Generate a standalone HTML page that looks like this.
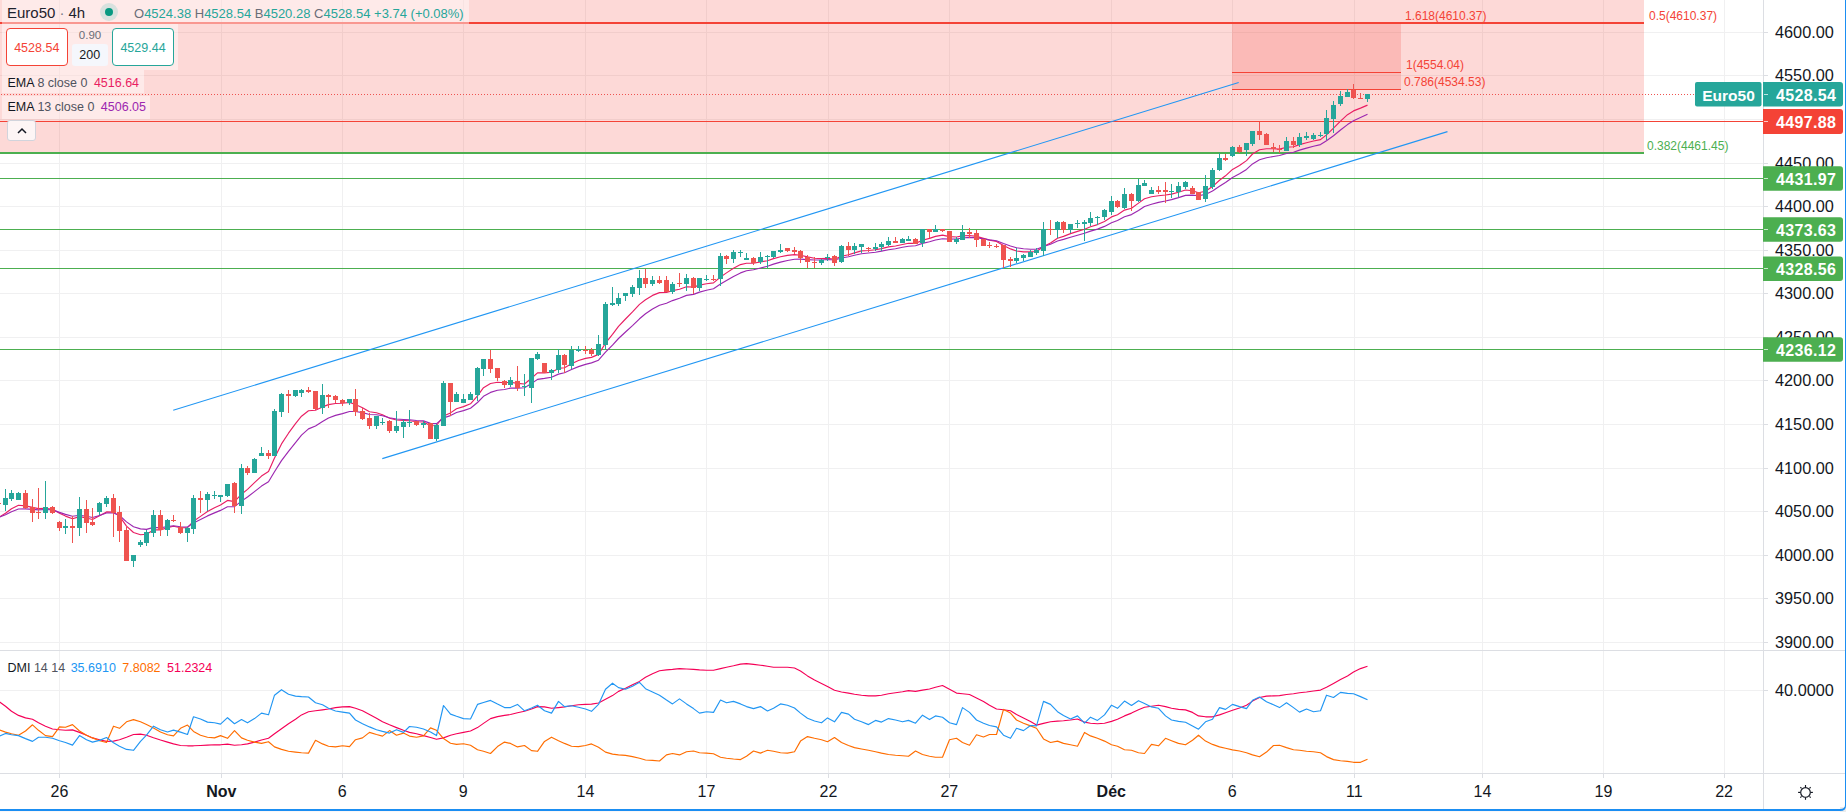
<!DOCTYPE html>
<html><head><meta charset="utf-8"><style>
*{margin:0;padding:0;box-sizing:border-box}
html,body{width:1846px;height:812px;overflow:hidden;background:#fff;font-family:"Liberation Sans",Arial,sans-serif}
#root{position:relative;width:1846px;height:812px;overflow:hidden}
svg text{font-family:"Liberation Sans",Arial,sans-serif}
.ax{font-size:16.3px;fill:#131722}
.tx{font-size:16px;fill:#131722}
.b{font-weight:bold}
.fib{font-size:12px}
.pl{font-size:16px;font-weight:bold;fill:#fff;letter-spacing:0.35px}
.lg,.ohlc,.emal,.dmil,.sell,.buy,.spread,.qty{position:absolute;white-space:nowrap}
.lgbg{position:absolute;left:2px;top:0;width:467px;height:24px;background:rgba(255,255,255,0.45)}
.lg1{left:7px;top:4px;font-size:15px;color:#1e222d}
.dot1{margin:0 4px;color:#787b86}
.ind{position:absolute;left:100px;top:3px;width:18px;height:18px;border-radius:50%;background:#d8e1de}
.ind2{position:absolute;left:5px;top:5px;width:8px;height:8px;border-radius:50%;background:#089981}
.ohlc{left:134px;top:6px;font-size:13px;color:#6a6d78}
.ohlc .g{color:#26a69a}
.bsbg{position:absolute;left:2px;top:24px;width:176px;height:46px;background:rgba(255,255,255,0.45)}
.sell{left:6px;top:28px;width:61.5px;height:38px;border:1px solid #f44336;border-radius:4px;background:#fff;color:#f44336;font-size:12.5px;text-align:center;line-height:39px}
.buy{left:112px;top:28px;width:62px;height:38px;border:1px solid #26a69a;border-radius:4px;background:#fff;color:#26a69a;font-size:12.5px;text-align:center;line-height:39px}
.spread{left:72px;top:29px;width:36px;text-align:center;font-size:11.5px;color:#6a6d78}
.qty{left:72px;top:44px;width:35.5px;height:21.5px;border-radius:3px;background:#f5f7fc;text-align:center;font-size:12.5px;line-height:22px;color:#131722}
.emabg{position:absolute;left:2px;background:rgba(255,255,255,0.45)}
.e1{top:70px;width:142px;height:22.5px}
.e2{top:95.5px;width:148px;height:23px}
.emal{left:7.5px;font-size:12.5px;color:#131722}
.ar{color:#50535e}
.coll{position:absolute;left:7px;top:119.5px;width:29px;height:21px;border:1px solid #d1d4dc;border-radius:3px;background:#fdf5f5;display:flex;align-items:center;justify-content:center}
.dmil{left:7.5px;top:661px;font-size:12.5px;color:#131722}
</style></head>
<body><div id="root">
<svg width="1846" height="812" viewBox="0 0 1846 812" style="position:absolute;left:0;top:0">
<rect x="59" y="0" width="1" height="773" fill="#f0f0f1"/>
<rect x="221" y="0" width="1" height="773" fill="#f0f0f1"/>
<rect x="342" y="0" width="1" height="773" fill="#f0f0f1"/>
<rect x="463" y="0" width="1" height="773" fill="#f0f0f1"/>
<rect x="585" y="0" width="1" height="773" fill="#f0f0f1"/>
<rect x="706" y="0" width="1" height="773" fill="#f0f0f1"/>
<rect x="828" y="0" width="1" height="773" fill="#f0f0f1"/>
<rect x="949" y="0" width="1" height="773" fill="#f0f0f1"/>
<rect x="1111" y="0" width="1" height="773" fill="#f0f0f1"/>
<rect x="1232" y="0" width="1" height="773" fill="#f0f0f1"/>
<rect x="1354" y="0" width="1" height="773" fill="#f0f0f1"/>
<rect x="1482" y="0" width="1" height="773" fill="#f0f0f1"/>
<rect x="1603" y="0" width="1" height="773" fill="#f0f0f1"/>
<rect x="1724" y="0" width="1" height="773" fill="#f0f0f1"/>
<rect x="0" y="32" width="1763" height="1" fill="#f0f0f1"/>
<rect x="0" y="75" width="1763" height="1" fill="#f0f0f1"/>
<rect x="0" y="119" width="1763" height="1" fill="#f0f0f1"/>
<rect x="0" y="163" width="1763" height="1" fill="#f0f0f1"/>
<rect x="0" y="206" width="1763" height="1" fill="#f0f0f1"/>
<rect x="0" y="250" width="1763" height="1" fill="#f0f0f1"/>
<rect x="0" y="293" width="1763" height="1" fill="#f0f0f1"/>
<rect x="0" y="337" width="1763" height="1" fill="#f0f0f1"/>
<rect x="0" y="380" width="1763" height="1" fill="#f0f0f1"/>
<rect x="0" y="424" width="1763" height="1" fill="#f0f0f1"/>
<rect x="0" y="468" width="1763" height="1" fill="#f0f0f1"/>
<rect x="0" y="511" width="1763" height="1" fill="#f0f0f1"/>
<rect x="0" y="555" width="1763" height="1" fill="#f0f0f1"/>
<rect x="0" y="598" width="1763" height="1" fill="#f0f0f1"/>
<rect x="0" y="642" width="1763" height="1" fill="#f0f0f1"/>
<rect x="0" y="690" width="1763" height="1" fill="#f0f0f1"/>
<rect x="0" y="0" width="1644" height="152" fill="#f44336" fill-opacity="0.2"/>
<rect x="1232" y="24" width="169" height="65" fill="#f44336" fill-opacity="0.2"/>
<rect x="0" y="22" width="1644" height="2" fill="#f44336"/>
<rect x="1232" y="72" width="169" height="1" fill="#f44336"/>
<rect x="1232" y="89" width="169" height="1" fill="#f44336"/>
<rect x="0" y="152" width="1644" height="2" fill="#4caf50"/>
<rect x="0" y="121" width="1763" height="1" fill="#f44336"/>
<rect x="0" y="178" width="1763" height="1" fill="#4caf50"/>
<rect x="0" y="229" width="1763" height="1" fill="#4caf50"/>
<rect x="0" y="268" width="1763" height="1" fill="#4caf50"/>
<rect x="0" y="349" width="1763" height="1" fill="#4caf50"/>
<line x1="1" y1="94.5" x2="1695" y2="94.5" stroke="#ef5350" stroke-width="1" stroke-dasharray="1 2"/>
<line x1="173.2" y1="410.2" x2="1238.7" y2="82.5" stroke="#2196f3" stroke-width="1.1"/>
<line x1="382.3" y1="458.6" x2="1447.5" y2="131.6" stroke="#2196f3" stroke-width="1.1"/>
<path d="M-1.5,517.5 L5.5,513.2 L11.5,508.7 L18.5,505.3 L25.5,505.9 L32.5,507.4 L38.5,508.6 L45.5,508.2 L52.5,509.2 L59.5,513.3 L65.5,516.1 L72.5,518.7 L79.5,516.6 L86.5,518.0 L92.5,519.5 L99.5,515.8 L106.5,511.9 L113.5,512.1 L119.5,516.2 L126.5,526.1 L133.5,532.5 L140.5,534.7 L146.5,534.2 L153.5,529.9 L160.5,529.9 L167.5,527.7 L173.5,526.2 L180.5,527.7 L187.5,527.7 L193.5,521.2 L200.5,516.4 L207.5,511.5 L214.5,507.7 L220.5,505.0 L227.5,500.4 L234.5,501.6 L241.5,494.2 L247.5,489.4 L254.5,482.7 L261.5,476.1 L268.5,471.6 L274.5,458.1 L281.5,443.9 L288.5,433.2 L295.5,423.6 L301.5,416.2 L308.5,410.7 L315.5,410.3 L322.5,406.9 L328.5,404.6 L335.5,403.5 L342.5,403.3 L349.5,402.4 L355.5,404.5 L362.5,407.7 L369.5,411.7 L376.5,412.7 L382.5,414.7 L389.5,418.2 L396.5,420.0 L403.5,420.5 L409.5,420.8 L416.5,421.7 L423.5,422.0 L430.5,425.7 L436.5,425.5 L443.5,416.1 L450.5,412.9 L456.5,408.7 L463.5,406.6 L470.5,403.8 L477.5,395.9 L483.5,387.7 L490.5,383.5 L497.5,382.2 L504.5,382.8 L510.5,382.2 L517.5,383.4 L524.5,384.0 L531.5,378.3 L537.5,372.9 L544.5,372.9 L551.5,372.2 L558.5,368.4 L564.5,367.7 L571.5,363.8 L578.5,360.5 L585.5,358.4 L591.5,357.4 L598.5,354.4 L605.5,343.2 L612.5,334.3 L618.5,326.3 L625.5,319.0 L632.5,311.9 L639.5,304.4 L645.5,299.8 L652.5,295.4 L659.5,292.6 L666.5,292.5 L672.5,290.6 L679.5,289.2 L686.5,286.7 L693.5,287.1 L699.5,285.1 L706.5,283.8 L713.5,282.9 L720.5,277.0 L726.5,272.9 L733.5,268.3 L740.5,264.6 L746.5,263.2 L753.5,263.2 L760.5,261.9 L767.5,260.7 L773.5,258.6 L780.5,256.7 L787.5,255.4 L794.5,254.6 L800.5,255.3 L807.5,256.9 L814.5,258.2 L821.5,258.6 L827.5,258.2 L834.5,259.2 L841.5,256.2 L848.5,254.8 L854.5,252.9 L861.5,250.9 L868.5,250.5 L875.5,249.8 L881.5,248.6 L888.5,246.9 L895.5,246.0 L902.5,244.5 L908.5,243.3 L915.5,243.4 L922.5,240.3 L929.5,238.4 L935.5,236.4 L942.5,235.1 L949.5,236.6 L956.5,237.0 L962.5,235.9 L969.5,235.5 L976.5,236.4 L983.5,238.4 L989.5,240.1 L996.5,241.5 L1003.5,245.6 L1010.5,248.9 L1016.5,251.0 L1023.5,251.9 L1030.5,251.9 L1036.5,251.5 L1043.5,246.5 L1050.5,243.0 L1057.5,238.3 L1063.5,236.4 L1070.5,233.6 L1077.5,231.4 L1084.5,229.3 L1090.5,226.8 L1097.5,224.6 L1104.5,221.4 L1111.5,216.9 L1117.5,214.7 L1124.5,210.1 L1131.5,208.2 L1138.5,203.1 L1144.5,198.7 L1151.5,196.8 L1158.5,195.7 L1165.5,195.0 L1171.5,194.1 L1178.5,192.3 L1185.5,190.0 L1192.5,190.8 L1198.5,192.8 L1205.5,191.3 L1212.5,186.6 L1219.5,180.3 L1225.5,175.8 L1232.5,169.4 L1239.5,165.5 L1246.5,160.6 L1252.5,154.0 L1259.5,149.8 L1266.5,148.7 L1273.5,148.8 L1279.5,149.1 L1286.5,147.3 L1293.5,146.8 L1299.5,144.6 L1306.5,142.7 L1313.5,141.0 L1320.5,139.6 L1326.5,134.9 L1333.5,128.2 L1340.5,121.1 L1347.5,114.7 L1353.5,110.9 L1360.5,108.1 L1367.5,105.1" fill="none" stroke="#e91e63" stroke-width="1.15" stroke-linejoin="round"/>
<path d="M-1.5,517.5 L5.5,514.7 L11.5,511.7 L18.5,509.0 L25.5,508.9 L32.5,509.4 L38.5,509.9 L45.5,509.5 L52.5,509.9 L59.5,512.4 L65.5,514.4 L72.5,516.3 L79.5,515.3 L86.5,516.3 L92.5,517.5 L99.5,515.5 L106.5,513.0 L113.5,513.0 L119.5,515.5 L126.5,521.9 L133.5,526.7 L140.5,528.9 L146.5,529.4 L153.5,527.4 L160.5,527.7 L167.5,526.6 L173.5,525.8 L180.5,526.8 L187.5,527.0 L193.5,522.9 L200.5,519.5 L207.5,515.9 L214.5,512.9 L220.5,510.4 L227.5,506.7 L234.5,506.6 L241.5,501.1 L247.5,497.0 L254.5,491.6 L261.5,486.1 L268.5,481.8 L274.5,471.7 L281.5,460.6 L288.5,451.3 L295.5,442.6 L301.5,435.1 L308.5,428.9 L315.5,426.0 L322.5,421.6 L328.5,418.0 L335.5,415.4 L342.5,413.6 L349.5,411.5 L355.5,411.5 L362.5,412.6 L369.5,414.5 L376.5,414.7 L382.5,415.7 L389.5,417.8 L396.5,419.0 L403.5,419.5 L409.5,419.8 L416.5,420.5 L423.5,420.9 L430.5,423.4 L436.5,423.6 L443.5,417.9 L450.5,415.6 L456.5,412.5 L463.5,410.6 L470.5,408.2 L477.5,402.5 L483.5,396.3 L490.5,392.4 L497.5,390.3 L504.5,389.5 L510.5,388.1 L517.5,388.1 L524.5,387.8 L531.5,383.6 L537.5,379.4 L544.5,378.4 L551.5,377.2 L558.5,374.1 L564.5,372.8 L571.5,369.5 L578.5,366.6 L585.5,364.4 L591.5,362.9 L598.5,360.2 L605.5,352.2 L612.5,345.2 L618.5,338.5 L625.5,332.0 L632.5,325.6 L639.5,318.8 L645.5,313.8 L652.5,309.0 L659.5,305.2 L666.5,303.3 L672.5,300.6 L679.5,298.2 L686.5,295.4 L693.5,294.4 L699.5,292.1 L706.5,290.2 L713.5,288.7 L720.5,284.1 L726.5,280.5 L733.5,276.4 L740.5,272.9 L746.5,270.8 L753.5,269.7 L760.5,268.0 L767.5,266.3 L773.5,264.1 L780.5,262.1 L787.5,260.5 L794.5,259.3 L800.5,259.1 L807.5,259.6 L814.5,260.0 L821.5,260.0 L827.5,259.5 L834.5,260.0 L841.5,258.0 L848.5,256.8 L854.5,255.3 L861.5,253.7 L868.5,253.0 L875.5,252.2 L881.5,251.1 L888.5,249.7 L895.5,248.7 L902.5,247.3 L908.5,246.2 L915.5,245.8 L922.5,243.4 L929.5,241.8 L935.5,240.0 L942.5,238.7 L949.5,239.1 L956.5,239.0 L962.5,238.0 L969.5,237.4 L976.5,237.8 L983.5,238.9 L989.5,239.9 L996.5,240.8 L1003.5,243.5 L1010.5,246.0 L1016.5,247.7 L1023.5,248.7 L1030.5,249.2 L1036.5,249.3 L1043.5,246.5 L1050.5,244.2 L1057.5,241.0 L1063.5,239.4 L1070.5,237.2 L1077.5,235.2 L1084.5,233.3 L1090.5,231.1 L1097.5,229.1 L1104.5,226.4 L1111.5,222.8 L1117.5,220.5 L1124.5,216.8 L1131.5,214.6 L1138.5,210.4 L1144.5,206.5 L1151.5,204.2 L1158.5,202.4 L1165.5,201.0 L1171.5,199.6 L1178.5,197.6 L1185.5,195.4 L1192.5,195.1 L1198.5,195.8 L1205.5,194.4 L1212.5,191.0 L1219.5,186.3 L1225.5,182.5 L1232.5,177.5 L1239.5,173.8 L1246.5,169.4 L1252.5,163.9 L1259.5,159.8 L1266.5,157.7 L1273.5,156.5 L1279.5,155.5 L1286.5,153.5 L1293.5,152.2 L1299.5,150.1 L1306.5,148.1 L1313.5,146.2 L1320.5,144.6 L1326.5,140.8 L1333.5,135.7 L1340.5,130.0 L1347.5,124.6 L1353.5,120.8 L1360.5,117.6 L1367.5,114.3" fill="none" stroke="#9c27b0" stroke-width="1.15" stroke-linejoin="round"/>
<rect x="-2" y="502" width="1" height="3" fill="#ef5350"/>
<rect x="-4" y="503" width="5" height="1" fill="#ef5350"/>
<rect x="5" y="489" width="1" height="22" fill="#26a69a"/>
<rect x="3" y="498" width="5" height="7" fill="#26a69a"/>
<rect x="11" y="490" width="1" height="11" fill="#26a69a"/>
<rect x="9" y="493" width="5" height="6" fill="#26a69a"/>
<rect x="18" y="492" width="1" height="8" fill="#26a69a"/>
<rect x="16" y="493" width="5" height="7" fill="#26a69a"/>
<rect x="25" y="490" width="1" height="19" fill="#ef5350"/>
<rect x="23" y="493" width="5" height="15" fill="#ef5350"/>
<rect x="32" y="499" width="1" height="23" fill="#ef5350"/>
<rect x="30" y="507" width="5" height="6" fill="#ef5350"/>
<rect x="38" y="488" width="1" height="31" fill="#ef5350"/>
<rect x="36" y="512" width="5" height="1" fill="#ef5350"/>
<rect x="45" y="481" width="1" height="38" fill="#26a69a"/>
<rect x="43" y="507" width="5" height="6" fill="#26a69a"/>
<rect x="52" y="506" width="1" height="8" fill="#ef5350"/>
<rect x="50" y="507" width="5" height="6" fill="#ef5350"/>
<rect x="59" y="521" width="1" height="10" fill="#ef5350"/>
<rect x="57" y="522" width="5" height="6" fill="#ef5350"/>
<rect x="65" y="519" width="1" height="15" fill="#26a69a"/>
<rect x="63" y="526" width="5" height="2" fill="#26a69a"/>
<rect x="72" y="516" width="1" height="27" fill="#ef5350"/>
<rect x="70" y="526" width="5" height="2" fill="#ef5350"/>
<rect x="79" y="497" width="1" height="39" fill="#26a69a"/>
<rect x="77" y="509" width="5" height="19" fill="#26a69a"/>
<rect x="86" y="500" width="1" height="33" fill="#ef5350"/>
<rect x="84" y="509" width="5" height="14" fill="#ef5350"/>
<rect x="92" y="508" width="1" height="18" fill="#ef5350"/>
<rect x="90" y="522" width="5" height="3" fill="#ef5350"/>
<rect x="99" y="502" width="1" height="13" fill="#26a69a"/>
<rect x="97" y="503" width="5" height="9" fill="#26a69a"/>
<rect x="106" y="496" width="1" height="11" fill="#26a69a"/>
<rect x="104" y="498" width="5" height="6" fill="#26a69a"/>
<rect x="113" y="494" width="1" height="43" fill="#ef5350"/>
<rect x="111" y="498" width="5" height="15" fill="#ef5350"/>
<rect x="119" y="506" width="1" height="36" fill="#ef5350"/>
<rect x="117" y="512" width="5" height="19" fill="#ef5350"/>
<rect x="126" y="527" width="1" height="34" fill="#ef5350"/>
<rect x="124" y="530" width="5" height="31" fill="#ef5350"/>
<rect x="133" y="555" width="1" height="12" fill="#26a69a"/>
<rect x="131" y="555" width="5" height="6" fill="#26a69a"/>
<rect x="140" y="540" width="1" height="7" fill="#26a69a"/>
<rect x="138" y="542" width="5" height="3" fill="#26a69a"/>
<rect x="146" y="530" width="1" height="16" fill="#26a69a"/>
<rect x="144" y="532" width="5" height="11" fill="#26a69a"/>
<rect x="153" y="510" width="1" height="27" fill="#26a69a"/>
<rect x="151" y="515" width="5" height="18" fill="#26a69a"/>
<rect x="160" y="510" width="1" height="26" fill="#ef5350"/>
<rect x="158" y="515" width="5" height="15" fill="#ef5350"/>
<rect x="167" y="519" width="1" height="17" fill="#26a69a"/>
<rect x="165" y="520" width="5" height="10" fill="#26a69a"/>
<rect x="173" y="515" width="1" height="7" fill="#ef5350"/>
<rect x="171" y="520" width="5" height="1" fill="#ef5350"/>
<rect x="180" y="522" width="1" height="12" fill="#ef5350"/>
<rect x="178" y="527" width="5" height="6" fill="#ef5350"/>
<rect x="187" y="527" width="1" height="15" fill="#26a69a"/>
<rect x="185" y="528" width="5" height="5" fill="#26a69a"/>
<rect x="193" y="495" width="1" height="39" fill="#26a69a"/>
<rect x="191" y="498" width="5" height="31" fill="#26a69a"/>
<rect x="200" y="491" width="1" height="22" fill="#ef5350"/>
<rect x="198" y="498" width="5" height="2" fill="#ef5350"/>
<rect x="207" y="492" width="1" height="19" fill="#26a69a"/>
<rect x="205" y="494" width="5" height="6" fill="#26a69a"/>
<rect x="214" y="491" width="1" height="8" fill="#26a69a"/>
<rect x="212" y="495" width="5" height="1" fill="#26a69a"/>
<rect x="220" y="495" width="1" height="7" fill="#26a69a"/>
<rect x="218" y="495" width="5" height="2" fill="#26a69a"/>
<rect x="227" y="484" width="1" height="13" fill="#26a69a"/>
<rect x="225" y="484" width="5" height="12" fill="#26a69a"/>
<rect x="234" y="482" width="1" height="31" fill="#ef5350"/>
<rect x="232" y="483" width="5" height="23" fill="#ef5350"/>
<rect x="241" y="464" width="1" height="50" fill="#26a69a"/>
<rect x="239" y="468" width="5" height="38" fill="#26a69a"/>
<rect x="247" y="466" width="1" height="9" fill="#ef5350"/>
<rect x="245" y="468" width="5" height="5" fill="#ef5350"/>
<rect x="254" y="458" width="1" height="15" fill="#26a69a"/>
<rect x="252" y="459" width="5" height="14" fill="#26a69a"/>
<rect x="261" y="447" width="1" height="9" fill="#26a69a"/>
<rect x="259" y="453" width="5" height="3" fill="#26a69a"/>
<rect x="268" y="450" width="1" height="9" fill="#ef5350"/>
<rect x="266" y="453" width="5" height="3" fill="#ef5350"/>
<rect x="274" y="409" width="1" height="47" fill="#26a69a"/>
<rect x="272" y="411" width="5" height="45" fill="#26a69a"/>
<rect x="281" y="393" width="1" height="24" fill="#26a69a"/>
<rect x="279" y="394" width="5" height="18" fill="#26a69a"/>
<rect x="288" y="390" width="1" height="23" fill="#ef5350"/>
<rect x="286" y="394" width="5" height="2" fill="#ef5350"/>
<rect x="295" y="390" width="1" height="7" fill="#26a69a"/>
<rect x="293" y="390" width="5" height="6" fill="#26a69a"/>
<rect x="301" y="389" width="1" height="8" fill="#26a69a"/>
<rect x="299" y="390" width="5" height="3" fill="#26a69a"/>
<rect x="308" y="387" width="1" height="6" fill="#ef5350"/>
<rect x="306" y="390" width="5" height="2" fill="#ef5350"/>
<rect x="315" y="391" width="1" height="19" fill="#ef5350"/>
<rect x="313" y="391" width="5" height="18" fill="#ef5350"/>
<rect x="322" y="384" width="1" height="30" fill="#26a69a"/>
<rect x="320" y="395" width="5" height="13" fill="#26a69a"/>
<rect x="328" y="394" width="1" height="14" fill="#ef5350"/>
<rect x="326" y="395" width="5" height="2" fill="#ef5350"/>
<rect x="335" y="395" width="1" height="8" fill="#ef5350"/>
<rect x="333" y="396" width="5" height="4" fill="#ef5350"/>
<rect x="342" y="399" width="1" height="7" fill="#ef5350"/>
<rect x="340" y="400" width="5" height="3" fill="#ef5350"/>
<rect x="349" y="399" width="1" height="6" fill="#26a69a"/>
<rect x="347" y="399" width="5" height="4" fill="#26a69a"/>
<rect x="355" y="389" width="1" height="27" fill="#ef5350"/>
<rect x="353" y="399" width="5" height="13" fill="#ef5350"/>
<rect x="362" y="408" width="1" height="12" fill="#ef5350"/>
<rect x="360" y="411" width="5" height="8" fill="#ef5350"/>
<rect x="369" y="413" width="1" height="16" fill="#ef5350"/>
<rect x="367" y="418" width="5" height="8" fill="#ef5350"/>
<rect x="376" y="416" width="1" height="13" fill="#26a69a"/>
<rect x="374" y="416" width="5" height="10" fill="#26a69a"/>
<rect x="382" y="418" width="1" height="7" fill="#26a69a"/>
<rect x="380" y="422" width="5" height="1" fill="#26a69a"/>
<rect x="389" y="420" width="1" height="13" fill="#ef5350"/>
<rect x="387" y="421" width="5" height="10" fill="#ef5350"/>
<rect x="396" y="411" width="1" height="22" fill="#26a69a"/>
<rect x="394" y="426" width="5" height="5" fill="#26a69a"/>
<rect x="403" y="420" width="1" height="18" fill="#26a69a"/>
<rect x="401" y="422" width="5" height="5" fill="#26a69a"/>
<rect x="409" y="410" width="1" height="17" fill="#26a69a"/>
<rect x="407" y="422" width="5" height="1" fill="#26a69a"/>
<rect x="416" y="421" width="1" height="5" fill="#ef5350"/>
<rect x="414" y="421" width="5" height="4" fill="#ef5350"/>
<rect x="423" y="421" width="1" height="7" fill="#26a69a"/>
<rect x="421" y="423" width="5" height="2" fill="#26a69a"/>
<rect x="430" y="423" width="1" height="16" fill="#ef5350"/>
<rect x="428" y="423" width="5" height="16" fill="#ef5350"/>
<rect x="436" y="424" width="1" height="17" fill="#26a69a"/>
<rect x="434" y="425" width="5" height="14" fill="#26a69a"/>
<rect x="443" y="381" width="1" height="45" fill="#26a69a"/>
<rect x="441" y="383" width="5" height="43" fill="#26a69a"/>
<rect x="450" y="383" width="1" height="33" fill="#ef5350"/>
<rect x="448" y="383" width="5" height="19" fill="#ef5350"/>
<rect x="456" y="392" width="1" height="10" fill="#26a69a"/>
<rect x="454" y="394" width="5" height="8" fill="#26a69a"/>
<rect x="463" y="394" width="1" height="9" fill="#26a69a"/>
<rect x="461" y="399" width="5" height="4" fill="#26a69a"/>
<rect x="470" y="392" width="1" height="8" fill="#26a69a"/>
<rect x="468" y="394" width="5" height="6" fill="#26a69a"/>
<rect x="477" y="367" width="1" height="34" fill="#26a69a"/>
<rect x="475" y="368" width="5" height="27" fill="#26a69a"/>
<rect x="483" y="359" width="1" height="17" fill="#26a69a"/>
<rect x="481" y="359" width="5" height="10" fill="#26a69a"/>
<rect x="490" y="350" width="1" height="23" fill="#ef5350"/>
<rect x="488" y="359" width="5" height="10" fill="#ef5350"/>
<rect x="497" y="368" width="1" height="13" fill="#ef5350"/>
<rect x="495" y="368" width="5" height="10" fill="#ef5350"/>
<rect x="504" y="380" width="1" height="8" fill="#ef5350"/>
<rect x="502" y="381" width="5" height="4" fill="#ef5350"/>
<rect x="510" y="377" width="1" height="10" fill="#26a69a"/>
<rect x="508" y="380" width="5" height="5" fill="#26a69a"/>
<rect x="517" y="366" width="1" height="25" fill="#ef5350"/>
<rect x="515" y="381" width="5" height="7" fill="#ef5350"/>
<rect x="524" y="374" width="1" height="22" fill="#26a69a"/>
<rect x="522" y="386" width="5" height="1" fill="#26a69a"/>
<rect x="531" y="358" width="1" height="45" fill="#26a69a"/>
<rect x="529" y="358" width="5" height="30" fill="#26a69a"/>
<rect x="537" y="352" width="1" height="8" fill="#26a69a"/>
<rect x="535" y="354" width="5" height="5" fill="#26a69a"/>
<rect x="544" y="363" width="1" height="10" fill="#ef5350"/>
<rect x="542" y="363" width="5" height="10" fill="#ef5350"/>
<rect x="551" y="369" width="1" height="11" fill="#26a69a"/>
<rect x="549" y="370" width="5" height="3" fill="#26a69a"/>
<rect x="558" y="349" width="1" height="24" fill="#26a69a"/>
<rect x="556" y="355" width="5" height="15" fill="#26a69a"/>
<rect x="564" y="354" width="1" height="19" fill="#ef5350"/>
<rect x="562" y="355" width="5" height="10" fill="#ef5350"/>
<rect x="571" y="346" width="1" height="23" fill="#26a69a"/>
<rect x="569" y="350" width="5" height="16" fill="#26a69a"/>
<rect x="578" y="346" width="1" height="6" fill="#26a69a"/>
<rect x="576" y="349" width="5" height="2" fill="#26a69a"/>
<rect x="585" y="346" width="1" height="8" fill="#ef5350"/>
<rect x="583" y="350" width="5" height="1" fill="#ef5350"/>
<rect x="591" y="348" width="1" height="8" fill="#ef5350"/>
<rect x="589" y="350" width="5" height="4" fill="#ef5350"/>
<rect x="598" y="335" width="1" height="21" fill="#26a69a"/>
<rect x="596" y="344" width="5" height="11" fill="#26a69a"/>
<rect x="605" y="302" width="1" height="47" fill="#26a69a"/>
<rect x="603" y="304" width="5" height="41" fill="#26a69a"/>
<rect x="612" y="287" width="1" height="19" fill="#26a69a"/>
<rect x="610" y="303" width="5" height="2" fill="#26a69a"/>
<rect x="618" y="293" width="1" height="13" fill="#26a69a"/>
<rect x="616" y="298" width="5" height="6" fill="#26a69a"/>
<rect x="625" y="293" width="1" height="8" fill="#26a69a"/>
<rect x="623" y="293" width="5" height="3" fill="#26a69a"/>
<rect x="632" y="285" width="1" height="12" fill="#26a69a"/>
<rect x="630" y="287" width="5" height="7" fill="#26a69a"/>
<rect x="639" y="270" width="1" height="25" fill="#26a69a"/>
<rect x="637" y="278" width="5" height="10" fill="#26a69a"/>
<rect x="645" y="269" width="1" height="19" fill="#ef5350"/>
<rect x="643" y="278" width="5" height="6" fill="#ef5350"/>
<rect x="652" y="276" width="1" height="10" fill="#26a69a"/>
<rect x="650" y="280" width="5" height="4" fill="#26a69a"/>
<rect x="659" y="276" width="1" height="8" fill="#ef5350"/>
<rect x="657" y="280" width="5" height="3" fill="#ef5350"/>
<rect x="666" y="276" width="1" height="16" fill="#ef5350"/>
<rect x="664" y="280" width="5" height="12" fill="#ef5350"/>
<rect x="672" y="282" width="1" height="12" fill="#26a69a"/>
<rect x="670" y="284" width="5" height="8" fill="#26a69a"/>
<rect x="679" y="273" width="1" height="14" fill="#ef5350"/>
<rect x="677" y="283" width="5" height="1" fill="#ef5350"/>
<rect x="686" y="274" width="1" height="17" fill="#26a69a"/>
<rect x="684" y="278" width="5" height="6" fill="#26a69a"/>
<rect x="693" y="277" width="1" height="17" fill="#ef5350"/>
<rect x="691" y="278" width="5" height="10" fill="#ef5350"/>
<rect x="699" y="278" width="1" height="13" fill="#26a69a"/>
<rect x="697" y="278" width="5" height="10" fill="#26a69a"/>
<rect x="706" y="275" width="1" height="6" fill="#26a69a"/>
<rect x="704" y="279" width="5" height="1" fill="#26a69a"/>
<rect x="713" y="275" width="1" height="6" fill="#ef5350"/>
<rect x="711" y="279" width="5" height="1" fill="#ef5350"/>
<rect x="720" y="253" width="1" height="33" fill="#26a69a"/>
<rect x="718" y="256" width="5" height="23" fill="#26a69a"/>
<rect x="726" y="255" width="1" height="9" fill="#ef5350"/>
<rect x="724" y="256" width="5" height="3" fill="#ef5350"/>
<rect x="733" y="250" width="1" height="13" fill="#26a69a"/>
<rect x="731" y="252" width="5" height="7" fill="#26a69a"/>
<rect x="740" y="250" width="1" height="7" fill="#26a69a"/>
<rect x="738" y="252" width="5" height="1" fill="#26a69a"/>
<rect x="746" y="253" width="1" height="7" fill="#26a69a"/>
<rect x="744" y="258" width="5" height="2" fill="#26a69a"/>
<rect x="753" y="257" width="1" height="8" fill="#ef5350"/>
<rect x="751" y="258" width="5" height="5" fill="#ef5350"/>
<rect x="760" y="252" width="1" height="12" fill="#26a69a"/>
<rect x="758" y="257" width="5" height="5" fill="#26a69a"/>
<rect x="767" y="255" width="1" height="13" fill="#26a69a"/>
<rect x="765" y="256" width="5" height="1" fill="#26a69a"/>
<rect x="773" y="251" width="1" height="7" fill="#26a69a"/>
<rect x="771" y="251" width="5" height="6" fill="#26a69a"/>
<rect x="780" y="244" width="1" height="9" fill="#26a69a"/>
<rect x="778" y="250" width="5" height="2" fill="#26a69a"/>
<rect x="787" y="248" width="1" height="4" fill="#ef5350"/>
<rect x="785" y="248" width="5" height="3" fill="#ef5350"/>
<rect x="794" y="247" width="1" height="7" fill="#ef5350"/>
<rect x="792" y="250" width="5" height="2" fill="#ef5350"/>
<rect x="800" y="250" width="1" height="13" fill="#ef5350"/>
<rect x="798" y="251" width="5" height="7" fill="#ef5350"/>
<rect x="807" y="255" width="1" height="13" fill="#ef5350"/>
<rect x="805" y="257" width="5" height="5" fill="#ef5350"/>
<rect x="814" y="257" width="1" height="11" fill="#ef5350"/>
<rect x="812" y="262" width="5" height="1" fill="#ef5350"/>
<rect x="821" y="259" width="1" height="6" fill="#26a69a"/>
<rect x="819" y="260" width="5" height="3" fill="#26a69a"/>
<rect x="827" y="254" width="1" height="7" fill="#26a69a"/>
<rect x="825" y="257" width="5" height="1" fill="#26a69a"/>
<rect x="834" y="255" width="1" height="11" fill="#ef5350"/>
<rect x="832" y="256" width="5" height="7" fill="#ef5350"/>
<rect x="841" y="245" width="1" height="18" fill="#26a69a"/>
<rect x="839" y="246" width="5" height="16" fill="#26a69a"/>
<rect x="848" y="242" width="1" height="14" fill="#ef5350"/>
<rect x="846" y="246" width="5" height="4" fill="#ef5350"/>
<rect x="854" y="243" width="1" height="11" fill="#26a69a"/>
<rect x="852" y="246" width="5" height="4" fill="#26a69a"/>
<rect x="861" y="244" width="1" height="9" fill="#26a69a"/>
<rect x="859" y="244" width="5" height="3" fill="#26a69a"/>
<rect x="868" y="247" width="1" height="5" fill="#ef5350"/>
<rect x="866" y="248" width="5" height="1" fill="#ef5350"/>
<rect x="875" y="243" width="1" height="8" fill="#26a69a"/>
<rect x="873" y="247" width="5" height="2" fill="#26a69a"/>
<rect x="881" y="242" width="1" height="9" fill="#26a69a"/>
<rect x="879" y="244" width="5" height="3" fill="#26a69a"/>
<rect x="888" y="237" width="1" height="9" fill="#26a69a"/>
<rect x="886" y="241" width="5" height="4" fill="#26a69a"/>
<rect x="895" y="237" width="1" height="6" fill="#ef5350"/>
<rect x="893" y="241" width="5" height="2" fill="#ef5350"/>
<rect x="902" y="238" width="1" height="5" fill="#26a69a"/>
<rect x="900" y="239" width="5" height="4" fill="#26a69a"/>
<rect x="908" y="236" width="1" height="5" fill="#26a69a"/>
<rect x="906" y="239" width="5" height="2" fill="#26a69a"/>
<rect x="915" y="238" width="1" height="6" fill="#ef5350"/>
<rect x="913" y="239" width="5" height="5" fill="#ef5350"/>
<rect x="922" y="229" width="1" height="18" fill="#26a69a"/>
<rect x="920" y="229" width="5" height="14" fill="#26a69a"/>
<rect x="929" y="229" width="1" height="9" fill="#ef5350"/>
<rect x="927" y="229" width="5" height="3" fill="#ef5350"/>
<rect x="935" y="225" width="1" height="7" fill="#26a69a"/>
<rect x="933" y="229" width="5" height="3" fill="#26a69a"/>
<rect x="942" y="229" width="1" height="3" fill="#ef5350"/>
<rect x="940" y="229" width="5" height="2" fill="#ef5350"/>
<rect x="949" y="231" width="1" height="11" fill="#ef5350"/>
<rect x="947" y="231" width="5" height="11" fill="#ef5350"/>
<rect x="956" y="237" width="1" height="7" fill="#26a69a"/>
<rect x="954" y="239" width="5" height="3" fill="#26a69a"/>
<rect x="962" y="225" width="1" height="15" fill="#26a69a"/>
<rect x="960" y="232" width="5" height="8" fill="#26a69a"/>
<rect x="969" y="228" width="1" height="10" fill="#ef5350"/>
<rect x="967" y="232" width="5" height="2" fill="#ef5350"/>
<rect x="976" y="230" width="1" height="17" fill="#ef5350"/>
<rect x="974" y="233" width="5" height="7" fill="#ef5350"/>
<rect x="983" y="239" width="1" height="7" fill="#ef5350"/>
<rect x="981" y="239" width="5" height="7" fill="#ef5350"/>
<rect x="989" y="242" width="1" height="6" fill="#ef5350"/>
<rect x="987" y="245" width="5" height="1" fill="#ef5350"/>
<rect x="996" y="244" width="1" height="4" fill="#ef5350"/>
<rect x="994" y="246" width="5" height="1" fill="#ef5350"/>
<rect x="1003" y="245" width="1" height="23" fill="#ef5350"/>
<rect x="1001" y="245" width="5" height="15" fill="#ef5350"/>
<rect x="1010" y="257" width="1" height="10" fill="#ef5350"/>
<rect x="1008" y="259" width="5" height="2" fill="#ef5350"/>
<rect x="1016" y="248" width="1" height="15" fill="#26a69a"/>
<rect x="1014" y="258" width="5" height="3" fill="#26a69a"/>
<rect x="1023" y="254" width="1" height="7" fill="#26a69a"/>
<rect x="1021" y="255" width="5" height="3" fill="#26a69a"/>
<rect x="1030" y="250" width="1" height="7" fill="#26a69a"/>
<rect x="1028" y="252" width="5" height="5" fill="#26a69a"/>
<rect x="1036" y="248" width="1" height="7" fill="#26a69a"/>
<rect x="1034" y="250" width="5" height="3" fill="#26a69a"/>
<rect x="1043" y="222" width="1" height="34" fill="#26a69a"/>
<rect x="1041" y="229" width="5" height="22" fill="#26a69a"/>
<rect x="1050" y="220" width="1" height="15" fill="#ef5350"/>
<rect x="1048" y="229" width="5" height="1" fill="#ef5350"/>
<rect x="1057" y="221" width="1" height="17" fill="#26a69a"/>
<rect x="1055" y="222" width="5" height="8" fill="#26a69a"/>
<rect x="1063" y="221" width="1" height="12" fill="#ef5350"/>
<rect x="1061" y="222" width="5" height="8" fill="#ef5350"/>
<rect x="1070" y="224" width="1" height="9" fill="#26a69a"/>
<rect x="1068" y="224" width="5" height="6" fill="#26a69a"/>
<rect x="1077" y="220" width="1" height="8" fill="#26a69a"/>
<rect x="1075" y="223" width="5" height="1" fill="#26a69a"/>
<rect x="1084" y="220" width="1" height="21" fill="#26a69a"/>
<rect x="1082" y="222" width="5" height="2" fill="#26a69a"/>
<rect x="1090" y="212" width="1" height="14" fill="#26a69a"/>
<rect x="1088" y="218" width="5" height="5" fill="#26a69a"/>
<rect x="1097" y="216" width="1" height="9" fill="#26a69a"/>
<rect x="1095" y="217" width="5" height="1" fill="#26a69a"/>
<rect x="1104" y="209" width="1" height="11" fill="#26a69a"/>
<rect x="1102" y="210" width="5" height="7" fill="#26a69a"/>
<rect x="1111" y="196" width="1" height="19" fill="#26a69a"/>
<rect x="1109" y="201" width="5" height="11" fill="#26a69a"/>
<rect x="1117" y="200" width="1" height="8" fill="#ef5350"/>
<rect x="1115" y="201" width="5" height="6" fill="#ef5350"/>
<rect x="1124" y="188" width="1" height="21" fill="#26a69a"/>
<rect x="1122" y="194" width="5" height="14" fill="#26a69a"/>
<rect x="1131" y="193" width="1" height="18" fill="#ef5350"/>
<rect x="1129" y="194" width="5" height="7" fill="#ef5350"/>
<rect x="1138" y="179" width="1" height="23" fill="#26a69a"/>
<rect x="1136" y="185" width="5" height="16" fill="#26a69a"/>
<rect x="1144" y="180" width="1" height="6" fill="#26a69a"/>
<rect x="1142" y="183" width="5" height="3" fill="#26a69a"/>
<rect x="1151" y="187" width="1" height="7" fill="#26a69a"/>
<rect x="1149" y="190" width="5" height="4" fill="#26a69a"/>
<rect x="1158" y="186" width="1" height="8" fill="#ef5350"/>
<rect x="1156" y="190" width="5" height="2" fill="#ef5350"/>
<rect x="1165" y="182" width="1" height="21" fill="#ef5350"/>
<rect x="1163" y="190" width="5" height="2" fill="#ef5350"/>
<rect x="1171" y="184" width="1" height="14" fill="#26a69a"/>
<rect x="1169" y="191" width="5" height="1" fill="#26a69a"/>
<rect x="1178" y="182" width="1" height="15" fill="#26a69a"/>
<rect x="1176" y="186" width="5" height="6" fill="#26a69a"/>
<rect x="1185" y="181" width="1" height="8" fill="#26a69a"/>
<rect x="1183" y="182" width="5" height="5" fill="#26a69a"/>
<rect x="1192" y="186" width="1" height="8" fill="#ef5350"/>
<rect x="1190" y="188" width="5" height="6" fill="#ef5350"/>
<rect x="1198" y="192" width="1" height="8" fill="#ef5350"/>
<rect x="1196" y="192" width="5" height="8" fill="#ef5350"/>
<rect x="1205" y="175" width="1" height="27" fill="#26a69a"/>
<rect x="1203" y="186" width="5" height="13" fill="#26a69a"/>
<rect x="1212" y="168" width="1" height="21" fill="#26a69a"/>
<rect x="1210" y="170" width="5" height="17" fill="#26a69a"/>
<rect x="1219" y="153" width="1" height="18" fill="#26a69a"/>
<rect x="1217" y="158" width="5" height="12" fill="#26a69a"/>
<rect x="1225" y="154" width="1" height="7" fill="#ef5350"/>
<rect x="1223" y="158" width="5" height="2" fill="#ef5350"/>
<rect x="1232" y="146" width="1" height="11" fill="#26a69a"/>
<rect x="1230" y="147" width="5" height="9" fill="#26a69a"/>
<rect x="1239" y="145" width="1" height="8" fill="#ef5350"/>
<rect x="1237" y="147" width="5" height="5" fill="#ef5350"/>
<rect x="1246" y="143" width="1" height="13" fill="#26a69a"/>
<rect x="1244" y="143" width="5" height="7" fill="#26a69a"/>
<rect x="1252" y="131" width="1" height="15" fill="#26a69a"/>
<rect x="1250" y="131" width="5" height="13" fill="#26a69a"/>
<rect x="1259" y="122" width="1" height="18" fill="#ef5350"/>
<rect x="1257" y="131" width="5" height="4" fill="#ef5350"/>
<rect x="1266" y="133" width="1" height="12" fill="#ef5350"/>
<rect x="1264" y="134" width="5" height="11" fill="#ef5350"/>
<rect x="1273" y="143" width="1" height="9" fill="#ef5350"/>
<rect x="1271" y="147" width="5" height="2" fill="#ef5350"/>
<rect x="1279" y="145" width="1" height="8" fill="#ef5350"/>
<rect x="1277" y="149" width="5" height="1" fill="#ef5350"/>
<rect x="1286" y="137" width="1" height="14" fill="#26a69a"/>
<rect x="1284" y="141" width="5" height="10" fill="#26a69a"/>
<rect x="1293" y="137" width="1" height="11" fill="#ef5350"/>
<rect x="1291" y="141" width="5" height="4" fill="#ef5350"/>
<rect x="1299" y="133" width="1" height="14" fill="#26a69a"/>
<rect x="1297" y="137" width="5" height="8" fill="#26a69a"/>
<rect x="1306" y="132" width="1" height="8" fill="#26a69a"/>
<rect x="1304" y="136" width="5" height="2" fill="#26a69a"/>
<rect x="1313" y="133" width="1" height="7" fill="#26a69a"/>
<rect x="1311" y="135" width="5" height="4" fill="#26a69a"/>
<rect x="1320" y="132" width="1" height="5" fill="#26a69a"/>
<rect x="1318" y="135" width="5" height="1" fill="#26a69a"/>
<rect x="1326" y="110" width="1" height="30" fill="#26a69a"/>
<rect x="1324" y="118" width="5" height="16" fill="#26a69a"/>
<rect x="1333" y="101" width="1" height="32" fill="#26a69a"/>
<rect x="1331" y="105" width="5" height="14" fill="#26a69a"/>
<rect x="1340" y="91" width="1" height="15" fill="#26a69a"/>
<rect x="1338" y="96" width="5" height="8" fill="#26a69a"/>
<rect x="1347" y="89" width="1" height="8" fill="#26a69a"/>
<rect x="1345" y="92" width="5" height="5" fill="#26a69a"/>
<rect x="1353" y="84" width="1" height="15" fill="#ef5350"/>
<rect x="1351" y="90" width="5" height="8" fill="#ef5350"/>
<rect x="1360" y="93" width="1" height="6" fill="#ef5350"/>
<rect x="1358" y="98" width="5" height="1" fill="#ef5350"/>
<rect x="1367" y="94" width="1" height="8" fill="#26a69a"/>
<rect x="1365" y="94" width="5" height="5" fill="#26a69a"/>
<path d="M-1.5,701.1 L5.5,706.2 L11.5,711.3 L18.5,715.4 L25.5,717.9 L32.5,719.3 L38.5,722.8 L45.5,726.2 L52.5,729.0 L59.5,729.7 L65.5,730.3 L72.5,729.9 L79.5,732.4 L86.5,735.2 L92.5,737.9 L99.5,739.7 L106.5,741.4 L113.5,741.1 L119.5,739.7 L126.5,737.2 L133.5,734.5 L140.5,734.1 L146.5,735.2 L153.5,737.7 L160.5,740.0 L167.5,742.1 L173.5,743.9 L180.5,745.5 L187.5,745.8 L193.5,745.8 L200.5,745.5 L207.5,745.1 L214.5,744.8 L220.5,744.8 L227.5,744.1 L234.5,745.2 L241.5,744.8 L247.5,743.9 L254.5,742.1 L261.5,740.0 L268.5,738.3 L274.5,733.8 L281.5,728.7 L288.5,723.7 L295.5,719.3 L301.5,714.9 L308.5,711.7 L315.5,710.8 L322.5,709.9 L328.5,709.0 L335.5,707.6 L342.5,706.9 L349.5,706.6 L355.5,708.3 L362.5,710.8 L369.5,714.5 L376.5,718.2 L382.5,721.8 L389.5,724.8 L396.5,727.6 L403.5,730.3 L409.5,732.4 L416.5,733.8 L423.5,735.6 L430.5,737.5 L436.5,739.3 L443.5,737.9 L450.5,735.3 L456.5,733.8 L463.5,732.4 L470.5,731.0 L477.5,727.6 L483.5,723.4 L490.5,718.6 L497.5,716.6 L504.5,715.4 L510.5,714.5 L517.5,712.7 L524.5,711.3 L531.5,709.0 L537.5,706.6 L544.5,706.9 L551.5,708.3 L558.5,707.6 L564.5,706.9 L571.5,705.8 L578.5,704.8 L585.5,704.4 L591.5,704.1 L598.5,703.0 L605.5,699.3 L612.5,695.6 L618.5,691.4 L625.5,688.3 L632.5,684.8 L639.5,681.4 L645.5,677.2 L652.5,673.8 L659.5,670.8 L666.5,669.9 L672.5,669.4 L679.5,668.6 L686.5,669.0 L693.5,669.4 L699.5,669.9 L706.5,670.2 L713.5,670.3 L720.5,668.6 L726.5,667.2 L733.5,665.8 L740.5,664.1 L746.5,663.6 L753.5,664.4 L760.5,665.2 L767.5,666.2 L773.5,667.2 L780.5,667.2 L787.5,667.2 L794.5,668.0 L800.5,671.0 L807.5,675.9 L814.5,680.0 L821.5,683.4 L827.5,686.5 L834.5,690.3 L841.5,692.0 L848.5,693.1 L854.5,694.2 L861.5,695.2 L868.5,695.9 L875.5,695.9 L881.5,695.2 L888.5,693.8 L895.5,692.8 L902.5,691.7 L908.5,690.6 L915.5,691.4 L922.5,690.1 L929.5,689.0 L935.5,687.3 L942.5,685.5 L949.5,689.2 L956.5,693.1 L962.5,693.8 L969.5,694.5 L976.5,697.9 L983.5,701.4 L989.5,705.2 L996.5,709.0 L1003.5,709.7 L1010.5,710.8 L1016.5,714.5 L1023.5,717.9 L1030.5,721.4 L1036.5,725.1 L1043.5,723.4 L1050.5,721.8 L1057.5,721.1 L1063.5,720.7 L1070.5,720.0 L1077.5,719.0 L1084.5,722.1 L1090.5,723.2 L1097.5,723.7 L1104.5,723.2 L1111.5,721.4 L1117.5,719.3 L1124.5,715.9 L1131.5,713.1 L1138.5,709.7 L1144.5,707.2 L1151.5,706.2 L1158.5,705.2 L1165.5,706.6 L1171.5,708.3 L1178.5,709.4 L1185.5,709.9 L1192.5,712.4 L1198.5,715.9 L1205.5,716.8 L1212.5,716.8 L1219.5,714.9 L1225.5,712.7 L1232.5,710.3 L1239.5,708.0 L1246.5,705.2 L1252.5,701.1 L1259.5,697.5 L1266.5,696.1 L1273.5,695.9 L1279.5,695.6 L1286.5,694.5 L1293.5,693.8 L1299.5,692.8 L1306.5,692.0 L1313.5,691.0 L1320.5,690.1 L1326.5,687.3 L1333.5,683.4 L1340.5,679.6 L1347.5,675.9 L1353.5,672.1 L1360.5,668.6 L1367.5,666.2" fill="none" stroke="#f50057" stroke-width="1.15" stroke-linejoin="round"/>
<path d="M-1.5,729.7 L5.5,732.1 L11.5,733.8 L18.5,735.2 L25.5,731.0 L32.5,724.8 L38.5,730.3 L45.5,735.6 L52.5,736.6 L59.5,726.9 L65.5,727.3 L72.5,724.6 L79.5,731.0 L86.5,735.2 L92.5,737.9 L99.5,740.7 L106.5,742.5 L113.5,726.2 L119.5,728.3 L126.5,721.8 L133.5,719.6 L140.5,721.8 L146.5,724.6 L153.5,727.9 L160.5,732.0 L167.5,734.8 L173.5,735.9 L180.5,728.3 L187.5,725.1 L193.5,731.4 L200.5,735.2 L207.5,737.2 L214.5,737.9 L220.5,735.6 L227.5,738.3 L234.5,730.6 L241.5,737.9 L247.5,740.3 L254.5,742.1 L261.5,743.4 L268.5,741.7 L274.5,746.9 L281.5,749.4 L288.5,751.3 L295.5,752.1 L301.5,752.7 L308.5,753.1 L315.5,740.3 L322.5,743.9 L328.5,746.2 L335.5,746.9 L342.5,745.8 L349.5,746.6 L355.5,739.7 L362.5,737.9 L369.5,732.4 L376.5,734.5 L382.5,736.1 L389.5,730.6 L396.5,735.2 L403.5,733.1 L409.5,736.1 L416.5,737.2 L423.5,735.9 L430.5,727.9 L436.5,730.3 L443.5,738.6 L450.5,743.2 L456.5,744.4 L463.5,743.7 L470.5,745.2 L477.5,749.7 L483.5,751.3 L490.5,753.5 L497.5,746.6 L504.5,742.1 L510.5,743.4 L517.5,746.9 L524.5,745.5 L531.5,750.6 L537.5,751.3 L544.5,741.4 L551.5,737.2 L558.5,740.7 L564.5,743.4 L571.5,746.2 L578.5,746.6 L585.5,745.5 L591.5,743.9 L598.5,747.2 L605.5,752.1 L612.5,754.1 L618.5,754.9 L625.5,755.4 L632.5,756.6 L639.5,758.2 L645.5,760.0 L652.5,760.4 L659.5,761.0 L666.5,754.9 L672.5,753.5 L679.5,754.9 L686.5,751.7 L693.5,751.0 L699.5,752.7 L706.5,753.1 L713.5,753.8 L720.5,757.2 L726.5,758.2 L733.5,759.0 L740.5,759.6 L746.5,756.3 L753.5,751.0 L760.5,753.1 L767.5,750.3 L773.5,751.3 L780.5,752.7 L787.5,753.1 L794.5,751.7 L800.5,741.1 L807.5,736.6 L814.5,738.3 L821.5,739.7 L827.5,741.7 L834.5,737.5 L841.5,742.5 L848.5,745.5 L854.5,747.6 L861.5,749.0 L868.5,750.3 L875.5,751.7 L881.5,753.1 L888.5,754.5 L895.5,755.2 L902.5,755.7 L908.5,756.3 L915.5,751.0 L922.5,754.5 L929.5,756.3 L935.5,757.2 L942.5,757.2 L949.5,739.7 L956.5,738.3 L962.5,742.5 L969.5,745.2 L976.5,734.8 L983.5,737.0 L989.5,734.5 L996.5,734.5 L1003.5,709.4 L1010.5,713.1 L1016.5,720.0 L1023.5,723.2 L1030.5,725.9 L1036.5,728.3 L1043.5,738.9 L1050.5,742.5 L1057.5,741.1 L1063.5,743.4 L1070.5,744.8 L1077.5,746.2 L1084.5,732.4 L1090.5,735.9 L1097.5,738.3 L1104.5,741.1 L1111.5,744.8 L1117.5,746.2 L1124.5,749.7 L1131.5,750.3 L1138.5,752.7 L1144.5,753.5 L1151.5,744.4 L1158.5,745.8 L1165.5,738.3 L1171.5,740.7 L1178.5,743.4 L1185.5,744.8 L1192.5,740.3 L1198.5,735.2 L1205.5,741.1 L1212.5,744.4 L1219.5,746.9 L1225.5,748.3 L1232.5,749.9 L1239.5,751.0 L1246.5,752.7 L1252.5,754.9 L1259.5,756.8 L1266.5,752.1 L1273.5,745.5 L1279.5,745.2 L1286.5,747.6 L1293.5,749.7 L1299.5,750.3 L1306.5,751.3 L1313.5,751.7 L1320.5,752.7 L1326.5,756.6 L1333.5,759.6 L1340.5,760.7 L1347.5,761.4 L1353.5,762.3 L1360.5,762.3 L1367.5,759.3" fill="none" stroke="#ff6d00" stroke-width="1.15" stroke-linejoin="round"/>
<path d="M-1.5,736.6 L5.5,733.4 L11.5,734.8 L18.5,735.6 L25.5,738.6 L32.5,741.4 L38.5,737.2 L45.5,737.2 L52.5,738.3 L59.5,740.7 L65.5,742.5 L72.5,745.1 L79.5,735.6 L86.5,739.7 L92.5,742.1 L99.5,740.4 L106.5,737.5 L113.5,742.8 L119.5,746.2 L126.5,749.4 L133.5,750.3 L140.5,741.4 L146.5,735.2 L153.5,726.2 L160.5,729.7 L167.5,732.0 L173.5,730.1 L180.5,732.1 L187.5,734.5 L193.5,716.8 L200.5,719.0 L207.5,722.1 L214.5,722.8 L220.5,724.1 L227.5,717.7 L234.5,723.7 L241.5,719.6 L247.5,722.8 L254.5,718.6 L261.5,713.1 L268.5,714.8 L274.5,695.2 L281.5,689.7 L288.5,694.2 L295.5,696.1 L301.5,696.6 L308.5,697.0 L315.5,702.8 L322.5,704.8 L328.5,708.3 L335.5,711.0 L342.5,712.1 L349.5,713.1 L355.5,720.0 L362.5,723.7 L369.5,726.9 L376.5,729.7 L382.5,731.4 L389.5,733.1 L396.5,729.7 L403.5,732.4 L409.5,726.5 L416.5,727.3 L423.5,729.0 L430.5,732.0 L436.5,735.6 L443.5,705.5 L450.5,714.1 L456.5,716.3 L463.5,718.6 L470.5,719.0 L477.5,704.4 L483.5,702.5 L490.5,700.4 L497.5,704.1 L504.5,707.6 L510.5,707.6 L517.5,704.4 L524.5,710.8 L531.5,708.0 L537.5,705.2 L544.5,710.8 L551.5,713.1 L558.5,701.4 L564.5,706.6 L571.5,705.8 L578.5,707.2 L585.5,709.0 L591.5,711.3 L598.5,704.4 L605.5,689.2 L612.5,683.2 L618.5,687.6 L625.5,689.2 L632.5,686.2 L639.5,682.3 L645.5,688.7 L652.5,692.0 L659.5,695.2 L666.5,700.0 L672.5,703.9 L679.5,698.9 L686.5,703.9 L693.5,708.6 L699.5,713.1 L706.5,711.7 L713.5,712.4 L720.5,700.0 L726.5,702.8 L733.5,701.4 L740.5,703.9 L746.5,706.6 L753.5,708.6 L760.5,706.6 L767.5,711.0 L773.5,708.3 L780.5,703.9 L787.5,705.2 L794.5,708.0 L800.5,713.1 L807.5,718.2 L814.5,721.0 L821.5,722.8 L827.5,717.9 L834.5,721.8 L841.5,712.4 L848.5,714.1 L854.5,719.3 L861.5,721.8 L868.5,724.6 L875.5,720.4 L881.5,722.1 L888.5,718.6 L895.5,720.0 L902.5,721.8 L908.5,720.4 L915.5,723.2 L922.5,715.2 L929.5,719.6 L935.5,715.9 L942.5,717.2 L949.5,722.8 L956.5,724.6 L962.5,707.6 L969.5,712.4 L976.5,720.0 L983.5,723.2 L989.5,725.5 L996.5,726.9 L1003.5,735.2 L1010.5,738.3 L1016.5,728.3 L1023.5,730.6 L1030.5,725.5 L1036.5,725.9 L1043.5,701.4 L1050.5,704.4 L1057.5,711.7 L1063.5,715.4 L1070.5,719.0 L1077.5,715.9 L1084.5,723.2 L1090.5,717.2 L1097.5,720.4 L1104.5,714.9 L1111.5,705.2 L1117.5,708.3 L1124.5,701.1 L1131.5,705.5 L1138.5,700.7 L1144.5,703.4 L1151.5,706.9 L1158.5,708.3 L1165.5,715.9 L1171.5,720.0 L1178.5,721.4 L1185.5,722.3 L1192.5,725.9 L1198.5,729.2 L1205.5,721.8 L1212.5,719.3 L1219.5,707.6 L1225.5,709.4 L1232.5,704.4 L1239.5,706.6 L1246.5,708.6 L1252.5,700.3 L1259.5,697.0 L1266.5,701.7 L1273.5,704.8 L1279.5,707.6 L1286.5,702.8 L1293.5,707.6 L1299.5,712.1 L1306.5,709.0 L1313.5,711.7 L1320.5,710.8 L1326.5,695.2 L1333.5,697.5 L1340.5,692.4 L1347.5,693.4 L1353.5,693.8 L1360.5,696.6 L1367.5,699.7" fill="none" stroke="#2196f3" stroke-width="1.15" stroke-linejoin="round"/>
<rect x="1763" y="0" width="83" height="812" fill="#ffffff"/>
<rect x="0" y="773" width="1846" height="39" fill="#ffffff"/>
<rect x="1763" y="0" width="1" height="812" fill="#dcdee3"/>
<rect x="0" y="773" width="1846" height="1" fill="#dcdee3"/>
<rect x="0" y="650" width="1846" height="1" fill="#dcdee3"/>
<rect x="1764" y="32" width="4" height="1" fill="#dcdee3"/>
<text x="1775" y="37.5" class="ax">4600.00</text>
<rect x="1764" y="75" width="4" height="1" fill="#dcdee3"/>
<text x="1775" y="80.5" class="ax">4550.00</text>
<rect x="1764" y="119" width="4" height="1" fill="#dcdee3"/>
<text x="1775" y="124.5" class="ax">4500.00</text>
<rect x="1764" y="163" width="4" height="1" fill="#dcdee3"/>
<text x="1775" y="168.5" class="ax">4450.00</text>
<rect x="1764" y="206" width="4" height="1" fill="#dcdee3"/>
<text x="1775" y="211.5" class="ax">4400.00</text>
<rect x="1764" y="250" width="4" height="1" fill="#dcdee3"/>
<text x="1775" y="255.5" class="ax">4350.00</text>
<rect x="1764" y="293" width="4" height="1" fill="#dcdee3"/>
<text x="1775" y="298.5" class="ax">4300.00</text>
<rect x="1764" y="337" width="4" height="1" fill="#dcdee3"/>
<text x="1775" y="342.5" class="ax">4250.00</text>
<rect x="1764" y="380" width="4" height="1" fill="#dcdee3"/>
<text x="1775" y="385.5" class="ax">4200.00</text>
<rect x="1764" y="424" width="4" height="1" fill="#dcdee3"/>
<text x="1775" y="429.5" class="ax">4150.00</text>
<rect x="1764" y="468" width="4" height="1" fill="#dcdee3"/>
<text x="1775" y="473.5" class="ax">4100.00</text>
<rect x="1764" y="511" width="4" height="1" fill="#dcdee3"/>
<text x="1775" y="516.5" class="ax">4050.00</text>
<rect x="1764" y="555" width="4" height="1" fill="#dcdee3"/>
<text x="1775" y="560.5" class="ax">4000.00</text>
<rect x="1764" y="598" width="4" height="1" fill="#dcdee3"/>
<text x="1775" y="603.5" class="ax">3950.00</text>
<rect x="1764" y="642" width="4" height="1" fill="#dcdee3"/>
<text x="1775" y="647.5" class="ax">3900.00</text>
<rect x="1764" y="690" width="4" height="1" fill="#dcdee3"/>
<text x="1775" y="695.5" class="ax">40.0000</text>
<rect x="59" y="774" width="1" height="4" fill="#dcdee3"/>
<text x="59.5" y="797" class="tx" text-anchor="middle">26</text>
<rect x="221" y="774" width="1" height="4" fill="#dcdee3"/>
<text x="221.4" y="797" class="tx b" text-anchor="middle">Nov</text>
<rect x="342" y="774" width="1" height="4" fill="#dcdee3"/>
<text x="342.3" y="797" class="tx" text-anchor="middle">6</text>
<rect x="463" y="774" width="1" height="4" fill="#dcdee3"/>
<text x="463.2" y="797" class="tx" text-anchor="middle">9</text>
<rect x="585" y="774" width="1" height="4" fill="#dcdee3"/>
<text x="585.5" y="797" class="tx" text-anchor="middle">14</text>
<rect x="706" y="774" width="1" height="4" fill="#dcdee3"/>
<text x="706.5" y="797" class="tx" text-anchor="middle">17</text>
<rect x="828" y="774" width="1" height="4" fill="#dcdee3"/>
<text x="828.4" y="797" class="tx" text-anchor="middle">22</text>
<rect x="949" y="774" width="1" height="4" fill="#dcdee3"/>
<text x="949.3" y="797" class="tx" text-anchor="middle">27</text>
<rect x="1111" y="774" width="1" height="4" fill="#dcdee3"/>
<text x="1111.3" y="797" class="tx b" text-anchor="middle">Déc</text>
<rect x="1232" y="774" width="1" height="4" fill="#dcdee3"/>
<text x="1232.2" y="797" class="tx" text-anchor="middle">6</text>
<rect x="1354" y="774" width="1" height="4" fill="#dcdee3"/>
<text x="1354.3" y="797" class="tx" text-anchor="middle">11</text>
<rect x="1482" y="774" width="1" height="4" fill="#dcdee3"/>
<text x="1482.4" y="797" class="tx" text-anchor="middle">14</text>
<rect x="1603" y="774" width="1" height="4" fill="#dcdee3"/>
<text x="1603.4" y="797" class="tx" text-anchor="middle">19</text>
<rect x="1724" y="774" width="1" height="4" fill="#dcdee3"/>
<text x="1724.1" y="797" class="tx" text-anchor="middle">22</text>
<text x="1405" y="20" class="fib" fill="#f44336">1.618(4610.37)</text>
<text x="1406" y="69" class="fib" fill="#f44336">1(4554.04)</text>
<text x="1404" y="86" class="fib" fill="#f44336">0.786(4534.53)</text>
<text x="1649" y="20" class="fib" fill="#f44336">0.5(4610.37)</text>
<text x="1647" y="150" class="fib" fill="#4caf50">0.382(4461.45)</text>
<rect x="1695" y="82" width="66.5" height="24.5" rx="2" fill="#26a69a"/>
<text x="1728.5" y="100.6" class="pl" text-anchor="middle" style="letter-spacing:0;font-size:15.5px">Euro50</text>
<path d="M1763,82 H1840 a3,3 0 0 1 3,3 V103.5 a3,3 0 0 1 -3,3 H1763 Z" fill="#26a69a"/><rect x="1764" y="94" width="4" height="1" fill="#fff" fill-opacity="0.7"/><text x="1776" y="100.5" class="pl">4528.54</text>
<path d="M1763,109 H1840 a3,3 0 0 1 3,3 V131 a3,3 0 0 1 -3,3 H1763 Z" fill="#f44336"/><rect x="1764" y="121" width="4" height="1" fill="#fff" fill-opacity="0.7"/><text x="1776" y="127.8" class="pl">4497.88</text>
<path d="M1763,166.2 H1840 a3,3 0 0 1 3,3 V187.8 a3,3 0 0 1 -3,3 H1763 Z" fill="#4caf50"/><rect x="1764" y="178" width="4" height="1" fill="#fff" fill-opacity="0.7"/><text x="1776" y="184.8" class="pl">4431.97</text>
<path d="M1763,217.2 H1840 a3,3 0 0 1 3,3 V238.8 a3,3 0 0 1 -3,3 H1763 Z" fill="#4caf50"/><rect x="1764" y="229" width="4" height="1" fill="#fff" fill-opacity="0.7"/><text x="1776" y="235.8" class="pl">4373.63</text>
<path d="M1763,256.5 H1840 a3,3 0 0 1 3,3 V278.1 a3,3 0 0 1 -3,3 H1763 Z" fill="#4caf50"/><rect x="1764" y="268" width="4" height="1" fill="#fff" fill-opacity="0.7"/><text x="1776" y="275.1" class="pl">4328.56</text>
<path d="M1763,337.2 H1840 a3,3 0 0 1 3,3 V358.8 a3,3 0 0 1 -3,3 H1763 Z" fill="#4caf50"/><rect x="1764" y="349" width="4" height="1" fill="#fff" fill-opacity="0.7"/><text x="1776" y="355.8" class="pl">4236.12</text>
<g transform="translate(1805.5,792.4)" stroke="#131722" stroke-width="1.15" fill="none"><circle r="4.8"/><line x1="5.00" y1="0.00" x2="7.40" y2="0.00"/><line x1="3.96" y1="3.96" x2="5.16" y2="5.16"/><line x1="0.00" y1="5.00" x2="0.00" y2="7.40"/><line x1="-3.96" y1="3.96" x2="-5.16" y2="5.16"/><line x1="-5.00" y1="0.00" x2="-7.40" y2="0.00"/><line x1="-3.96" y1="-3.96" x2="-5.16" y2="-5.16"/><line x1="-0.00" y1="-5.00" x2="-0.00" y2="-7.40"/><line x1="3.96" y1="-3.96" x2="5.16" y2="-5.16"/></g>
<rect x="1840" y="807" width="6" height="5" fill="#ececec"/>
<path d="M1845,0 H1846 V806 Q1846,811 1840,811 H0 V809 H1840 Q1845,809 1845,805 Z" fill="#1b8ef2"/>
<rect x="0" y="811" width="1840" height="1" fill="#fbf7f7"/>
</svg>
<div class="lgbg"></div>

<div class="lg lg1"><span class="t1">Euro50</span><span class="dot1">·</span><span class="t1">4h</span></div>
<div class="ind"><div class="ind2"></div></div>
<div class="ohlc">O<span class="g">4524.38</span> H<span class="g">4528.54</span> B<span class="g">4520.28</span> C<span class="g">4528.54</span> <span class="g">+3.74 (+0.08%)</span></div>
<div class="bsbg"></div>
<div class="sell">4528.54</div>
<div class="spread">0.90</div>
<div class="qty">200</div>
<div class="buy">4529.44</div>
<div class="emabg e1"></div><div class="emal" style="top:76px">EMA <span class="ar">8 close 0</span> <span style="color:#e91e63;margin-left:3px">4516.64</span></div>
<div class="emabg e2"></div><div class="emal" style="top:100px">EMA <span class="ar">13 close 0</span> <span style="color:#9c27b0;margin-left:3px">4506.05</span></div>
<div class="coll"><svg width="12" height="8" viewBox="0 0 12 8" style="margin-top:1.5px"><path d="M2,6 L6,2 L10,6" stroke="#131722" stroke-width="1.5" fill="none"/></svg></div>
<div class="dmil">DMI <span class="ar">14 14</span> <span style="color:#2196f3;margin-left:2px">35.6910</span> <span style="color:#ff6d00;margin-left:3px">7.8082</span> <span style="color:#f50057;margin-left:3px">51.2324</span></div>

</div></body></html>
